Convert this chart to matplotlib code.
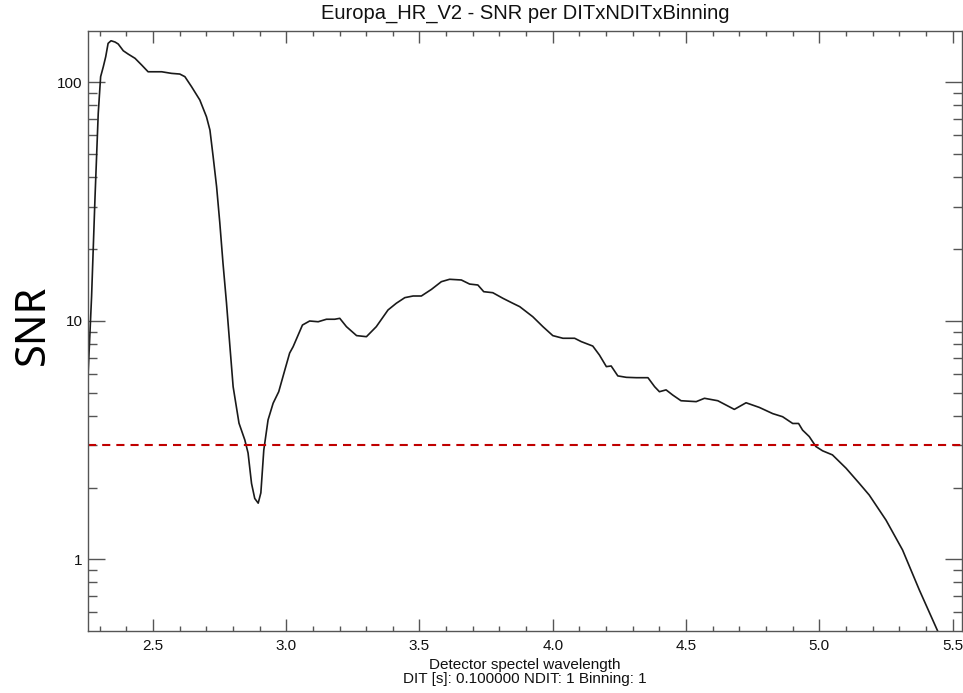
import matplotlib
matplotlib.use("Agg")
import matplotlib.pyplot as plt
from matplotlib.ticker import LogLocator, NullFormatter, FixedLocator, MultipleLocator, FixedFormatter

plt.rcParams['font.family'] = ['Liberation Sans', 'DejaVu Sans']

# wavelength (micron) and SNR
wavelength = [2.256, 2.270, 2.283, 2.295, 2.304, 2.314, 2.323, 2.332, 2.343, 2.358,
              2.370, 2.389, 2.407, 2.433, 2.458, 2.482, 2.507, 2.533, 2.570, 2.601,
              2.620, 2.645, 2.676, 2.701, 2.714, 2.726, 2.739, 2.751, 2.763, 2.776,
              2.789, 2.801, 2.823, 2.845, 2.857, 2.870, 2.882, 2.895, 2.905, 2.916,
              2.932, 2.951, 2.972, 2.995, 3.013, 3.026, 3.061, 3.088, 3.120, 3.151,
              3.182, 3.201, 3.226, 3.264, 3.301, 3.338, 3.382, 3.413, 3.445, 3.476,
              3.507, 3.545, 3.582, 3.613, 3.657, 3.688, 3.719, 3.741, 3.775, 3.813,
              3.850, 3.876, 3.925, 3.963, 4.000, 4.038, 4.082, 4.107, 4.150, 4.175,
              4.201, 4.219, 4.244, 4.276, 4.313, 4.357, 4.382, 4.400, 4.425, 4.450,
              4.481, 4.538, 4.569, 4.619, 4.681, 4.725, 4.775, 4.825, 4.862, 4.900,
              4.922, 4.937, 4.962, 4.987, 5.012, 5.049, 5.100, 5.150, 5.187, 5.250,
              5.312, 5.375, 5.443, 5.468]
snr = [5.65, 12.6, 33.1, 73.9, 105.3, 115.9, 127.6, 145.2, 148.9, 147.1,
       144.3, 135.2, 131.0, 125.7, 117.8, 110.4, 110.4, 110.4, 108.7, 108.0,
       105.3, 95.6, 84.1, 71.5, 62.9, 48.7, 36.4, 25.7, 17.4, 11.9,
       7.78, 5.29, 3.72, 3.16, 2.79, 2.08, 1.80, 1.72, 1.90, 2.87,
       3.84, 4.51, 5.04, 6.22, 7.32, 7.78, 9.59, 9.97, 9.90, 10.14,
       10.14, 10.23, 9.44, 8.66, 8.57, 9.44, 11.09, 11.83, 12.49, 12.69,
       12.69, 13.53, 14.57, 14.91, 14.81, 14.24, 14.11, 13.23, 13.10, 12.41,
       11.83, 11.45, 10.39, 9.44, 8.66, 8.44, 8.44, 8.17, 7.83, 7.18,
       6.42, 6.46, 5.87, 5.79, 5.77, 5.77, 5.29, 5.04, 5.13, 4.88,
       4.62, 4.58, 4.73, 4.62, 4.25, 4.53, 4.33, 4.08, 3.96, 3.71,
       3.71, 3.48, 3.27, 2.97, 2.85, 2.74, 2.41, 2.08, 1.86, 1.46,
       1.095, 0.744, 0.503, 0.417]
threshold = 3.0

title = "Europa_HR_V2 - SNR per DITxNDITxBinning"
xlabel = "Detector spectel wavelength\nDIT [s]: 0.100000 NDIT: 1 Binning: 1"
ylabel = "SNR"
xticks = [2.5, 3.0, 3.5, 4.0, 4.5, 5.0, 5.5]
xticklabels = ["2.5", "3.0", "3.5", "4.0", "4.5", "5.0", "5.5"]
yticks = [1, 10, 100]
yticklabels = ["1", "10", "100"]

W, H = 963, 693
fig = plt.figure(figsize=(W / 100, H / 100), dpi=100)
ax = fig.add_axes([88 / W, (H - 631) / H, (962 - 88) / W, (631 - 31) / H])

ax.plot(wavelength, snr, color='#1a1a1a', lw=1.2, clip_on=True)
ax.axhline(threshold, color='#c00000', lw=1.5, dashes=(3.9, 2.9))

ax.set_yscale('log')
ax.set_xlim(2.2566, 5.535)
ax.set_ylim(0.501, 163.6)

ax.xaxis.set_major_locator(FixedLocator(xticks))
ax.xaxis.set_major_formatter(FixedFormatter(xticklabels))
ax.xaxis.set_minor_locator(MultipleLocator(0.1))
ax.yaxis.set_major_locator(FixedLocator(yticks))
ax.yaxis.set_major_formatter(FixedFormatter(yticklabels))
ax.yaxis.set_minor_locator(LogLocator(base=10, subs=range(2, 10)))
ax.yaxis.set_minor_formatter(NullFormatter())

spine_c = '#555555'
for s in ax.spines.values():
    s.set_color(spine_c)
    s.set_linewidth(1.0)
ax.tick_params(axis='both', which='both', direction='in', top=True, right=True,
               color=spine_c, width=1.0, labelsize=11, labelcolor='#111111')
ax.tick_params(axis='x', which='major', length=8.6, pad=6)
ax.tick_params(axis='x', which='minor', length=3.8)
ax.tick_params(axis='y', which='major', length=12, pad=4)
ax.tick_params(axis='y', which='minor', length=6.5)

ax.set_title(title, fontsize=14.5, pad=9, color='#111111')
ax.set_xlabel(xlabel, fontsize=11, linespacing=1.05, labelpad=3, color='#111111')
fig.text(33 / W, 1 - 325 / H, ylabel, rotation=90, fontsize=30,
         family=['Noto Sans', 'DejaVu Sans'], ha='center', va='center')

fig.savefig('out.png', dpi=100)
